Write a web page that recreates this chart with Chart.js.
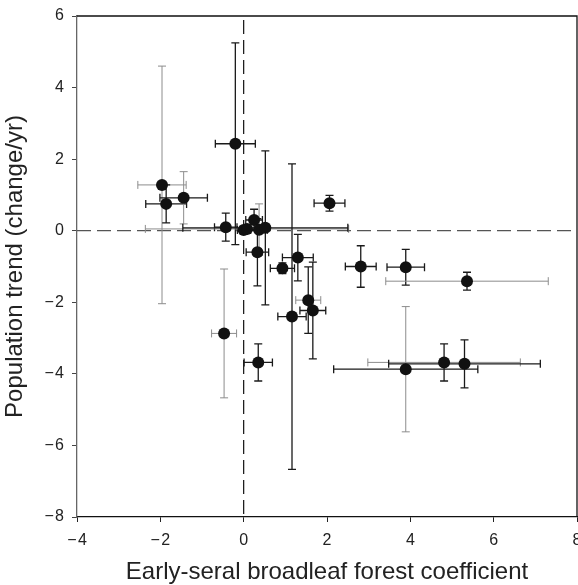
<!DOCTYPE html>
<html><head><meta charset="utf-8">
<script src="https://cdn.jsdelivr.net/npm/chart.js@4/dist/chart.umd.min.js"></script>
<style>html,body{margin:0;padding:0;background:#fff;overflow:hidden}#wrap{width:578px;height:585px}</style>
</head><body><div id="wrap"><canvas id="c" width="578" height="585"></canvas></div>
<script>
// ---- data ----
const coefX  = [-1.96,-1.86,-1.44,-0.20,-0.43,0.00,0.08,0.25,0.37,0.52,0.33,1.30,0.93,1.16,1.55,1.66,2.06,2.81,3.89,5.36,3.89,4.81,5.30,-0.47,0.35];
const trendY = [1.28,0.75,0.92,2.43,0.10,0.02,0.05,0.30,0.03,0.08,-0.60,-0.75,-1.05,-2.40,-1.94,-2.23,0.77,-1.00,-1.02,-1.41,-3.87,-3.68,-3.72,-2.87,-3.68];
const errX   = [0.58,0.49,0.57,0.48,0.27,0.15,2.44,0.20,0.20,1.98,0.27,0.37,0.29,0.34,0.30,0.31,0.37,0.37,0.45,1.95,1.73,1.83,1.82,0.30,0.34];
const errY   = [3.32,0.53,0.73,2.82,0.39,0.10,0.10,0.30,0.72,2.15,0.94,0.65,0.15,4.27,0.93,1.35,0.22,0.58,0.50,0.25,1.75,0.52,0.67,1.80,0.52];
const xTicks = [-4,-2,0,2,4,6,8];
const yTicks = [-8,-6,-4,-2,0,2,4,6];
const xTitle = 'Early-seral broadleaf forest coefficient';
const yTitle = 'Population trend (change/yr)';

// ---- styling: tone of each error bar (k = black, g = grey) ----
const toneX = ['g','k','k','k','k','k','g','k','k','k','k','k','k','k','g','k','k','k','k','g','k','g','k','g','k'];
const toneY = ['g','k','g','k','k','k','k','k','g','k','k','k','k','k','k','k','k','k','k','k','g','k','k','g','k'];

const FONT = "'Liberation Sans', Arial, Helvetica, sans-serif";
const fmt = v => v < 0 ? '\u2212\u200A' + Math.abs(v) : String(v);

const errPlugin = {
  id: 'errbars',
  beforeDatasetsDraw(chart) {
    const {ctx, scales: {x, y}, chartArea: a} = chart;
    ctx.save();
    // zero reference lines
    ctx.setLineDash([14, 6]);
    ctx.lineWidth = 1.2;
    ctx.strokeStyle = '#555';
    const y0 = y.getPixelForValue(0);
    ctx.beginPath(); ctx.moveTo(a.left, y0); ctx.lineTo(a.right, y0); ctx.stroke();
    ctx.strokeStyle = '#111';
    const x0 = x.getPixelForValue(0);
    ctx.beginPath(); ctx.moveTo(x0, a.top + 4); ctx.lineTo(x0, a.bottom); ctx.stroke();
    ctx.setLineDash([]);
    const cap = 4;
    for (let i = 0; i < coefX.length; i++) {
      const px = x.getPixelForValue(coefX[i]);
      const py = y.getPixelForValue(trendY[i]);
      // horizontal bar
      const xl = x.getPixelForValue(coefX[i] - errX[i]);
      const xr = x.getPixelForValue(coefX[i] + errX[i]);
      ctx.strokeStyle = toneX[i] === 'g' ? '#8c8c8c' : '#1a1a1a';
      ctx.lineWidth = toneX[i] === 'g' ? 1 : 1.3;
      ctx.beginPath();
      ctx.moveTo(xl, py); ctx.lineTo(xr, py);
      ctx.moveTo(xl, py - cap); ctx.lineTo(xl, py + cap);
      ctx.moveTo(xr, py - cap); ctx.lineTo(xr, py + cap);
      ctx.stroke();
      // vertical bar
      const yt = y.getPixelForValue(trendY[i] + errY[i]);
      const yb = y.getPixelForValue(trendY[i] - errY[i]);
      ctx.strokeStyle = toneY[i] === 'g' ? '#8c8c8c' : '#1a1a1a';
      ctx.lineWidth = toneY[i] === 'g' ? 1 : 1.3;
      ctx.beginPath();
      ctx.moveTo(px, yt); ctx.lineTo(px, yb);
      ctx.moveTo(px - cap, yt); ctx.lineTo(px + cap, yt);
      ctx.moveTo(px - cap, yb); ctx.lineTo(px + cap, yb);
      ctx.stroke();
    }
    ctx.restore();
  },
  afterDraw(chart) {
    const {ctx, chartArea: a} = chart;
    ctx.save();
    ctx.strokeStyle = '#111';
    ctx.lineWidth = 1.3;
    ctx.beginPath();
    ctx.moveTo(a.left, a.top); ctx.lineTo(a.right, a.top); ctx.lineTo(a.right, a.bottom);
    ctx.stroke();
    ctx.restore();
  }
};

new Chart(document.getElementById('c'), {
  type: 'scatter',
  data: {
    datasets: [{
      data: coefX.map((v, i) => ({x: v, y: trendY[i]})),
      pointRadius: 6,
      pointHoverRadius: 6,
      backgroundColor: '#111',
      borderColor: '#111',
      borderWidth: 0
    }]
  },
  options: {
    responsive: false,
    animation: false,
    devicePixelRatio: 1,
    layout: {autoPadding: false, padding: {top: 16, right: 1, left: 0, bottom: 0}},
    plugins: {legend: {display: false}, tooltip: {enabled: false}},
    scales: {
      x: {
        type: 'linear', min: -4, max: 8,
        afterBuildTicks: s => { s.ticks = xTicks.map(v => ({value: v})); },
        afterFit: s => { s.height = 68; s.paddingLeft = 0; s.paddingRight = 0; },
        grid: {drawOnChartArea: false, drawTicks: true, tickLength: 5, color: '#222', lineWidth: 1},
        border: {display: true, color: '#111', width: 1.3},
        ticks: {callback: fmt, color: '#222', padding: 9, maxRotation: 0, font: {family: FONT, size: 16}},
        title: {display: true, text: xTitle, color: '#222', padding: 0, font: {family: FONT, size: 24, lineHeight: 1.05}}
      },
      y: {
        type: 'linear', min: -8, max: 6,
        afterBuildTicks: s => { s.ticks = yTicks.map(v => ({value: v})); },
        afterFit: s => { s.width = 77; s.paddingTop = 0; s.paddingBottom = 0; },
        grid: {drawOnChartArea: false, drawTicks: true, tickLength: 5, color: '#444', lineWidth: 1},
        border: {display: true, color: '#666', width: 1.3},
        ticks: {callback: fmt, color: '#222', padding: 8, font: {family: FONT, size: 16}},
        title: {display: true, text: yTitle, color: '#222', padding: {top: 1, bottom: 0}, font: {family: FONT, size: 24}}
      }
    }
  },
  plugins: [errPlugin]
});
</script>
</body></html>
